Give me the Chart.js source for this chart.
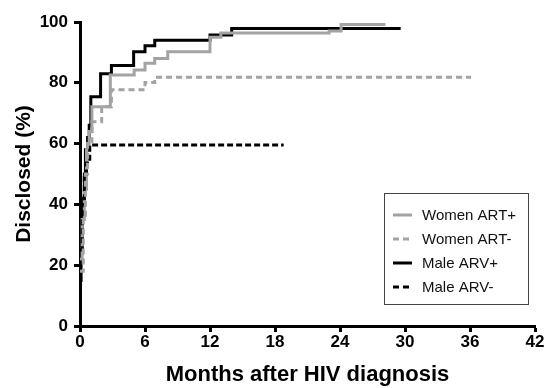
<!DOCTYPE html>
<html>
<head>
<meta charset="utf-8">
<script src="https://cdn.jsdelivr.net/npm/chart.js@4"></script>
<style>
html,body{margin:0;padding:0;background:#fff;}
#wrap{width:545px;height:388px;position:relative;}
</style>
</head>
<body>
<div id="wrap"><canvas id="c" width="545" height="388"></canvas></div>
<script>
// ---- data (months, % disclosed) ----
const seriesNames = ["Women ART+", "Women ART-", "Male ARV+", "Male ARV-"];

const womenArtPlusMonths = [0, 0.2, 0.4, 0.6, 0.85, 1.1, 2.8, 5.0, 6.0, 6.9, 8.1, 12.0, 13.0, 23.0, 24.1, 28.2];
const womenArtPlusPct    = [22, 35, 45, 58, 64, 72.1, 82.6, 84.2, 86.4, 88.0, 90.2, 95.0, 96.4, 97.0, 99.2, 99.2];

const womenArtMinusMonths = [0, 0.3, 0.5, 0.7, 1.1, 2.0, 2.9, 6.0, 6.9, 36.1];
const womenArtMinusPct    = [18, 35, 50, 60, 67.2, 72.1, 77.7, 80.1, 81.8, 81.8];

const maleArvPlusMonths = [0, 0.1, 0.2, 0.3, 0.4, 0.5, 0.7, 0.85, 1.0, 1.9, 2.9, 4.95, 6.0, 6.9, 12.0, 14.0, 29.6];
const maleArvPlusPct    = [15, 25, 35, 42, 50, 58, 62, 66, 75.4, 83.0, 85.7, 90.2, 92.2, 94.0, 95.7, 97.9, 97.9];

const maleArvMinusMonths = [0, 0.2, 0.4, 0.6, 0.9, 18.8];
const maleArvMinusPct    = [25, 40, 50, 53.6, 59.5, 59.5];

const xTicks = [0, 6, 12, 18, 24, 30, 36, 42];
const yTicks = [0, 20, 40, 60, 80, 100];

function pts(xs, ys){ return xs.map((x,i)=>({x:x, y:ys[i]})); }

const GRAY = '#a3a3a3';
const FONT = '"Liberation Sans", Arial, sans-serif';
const styles = [
  {color: GRAY, dash: []},
  {color: GRAY, dash: [6,4]},
  {color: '#000', dash: []},
  {color: '#000', dash: [6,3]}
];
const seriesData = [
  pts(womenArtPlusMonths, womenArtPlusPct),
  pts(womenArtMinusMonths, womenArtMinusPct),
  pts(maleArvPlusMonths, maleArvPlusPct),
  pts(maleArvMinusMonths, maleArvMinusPct)
];

const datasets = seriesNames.map((n,i)=>({
  label: n,
  data: seriesData[i],
  borderColor: styles[i].color,
  borderDash: styles[i].dash,
  borderWidth: 3,
  pointRadius: 0,
  stepped: true,
  fill: false,
  tension: 0
}));
// draw black lines on top
const order = [2,0,3,1];
datasets.forEach((d,i)=>{ d.order = order[i]; });

const legendBox = {
  id: 'legendBox',
  afterDatasetsDraw(chart){
    const ctx = chart.ctx;
    ctx.save();
    ctx.strokeStyle = '#444';
    ctx.lineWidth = 1;
    ctx.strokeRect(384.5, 193.5, 144, 111);
    const rows = [215, 239, 263, 287];
    ctx.font = '15px ' + FONT;
    ctx.textBaseline = 'middle';
    ctx.textAlign = 'left';
    seriesNames.forEach((n,i)=>{
      const y = rows[i];
      ctx.beginPath();
      ctx.strokeStyle = styles[i].color;
      ctx.lineWidth = 3;
      ctx.setLineDash(styles[i].dash.length ? [6,4] : []);
      ctx.moveTo(393, y);
      ctx.lineTo(412, y);
      ctx.stroke();
      ctx.setLineDash([]);
      ctx.fillStyle = '#111';
      ctx.fillText(n, 422, y+1);
    });
    ctx.restore();
  }
};

new Chart(document.getElementById('c'), {
  type: 'line',
  data: { datasets: datasets },
  options: {
    responsive: false,
    animation: false,
    layout: { padding: { left: 0, right: 10, top: 22, bottom: 0 } },
    plugins: { legend: { display: false }, tooltip: { enabled: false } },
    scales: {
      x: {
        type: 'linear',
        min: 0, max: 42,
        afterBuildTicks(s){ s.ticks = xTicks.map(v=>({value:v})); },
        afterFit(s){ s.height = 62; },
        border: { display: true, color: '#000', width: 3 },
        grid: { display: true, drawOnChartArea: false, drawTicks: true, tickLength: 6, tickWidth: 3, tickColor: '#000' },
        ticks: { color: '#000', padding: 0, font: { family: FONT, size: 17, weight: 'bold' }, maxRotation: 0 },
        title: { display: true, text: 'Months after HIV diagnosis', color: '#000', padding: { top: 0, bottom: 0 }, font: { family: FONT, size: 22, weight: 'bold' } }
      },
      y: {
        min: 0, max: 100,
        afterBuildTicks(s){ s.ticks = yTicks.map(v=>({value:v})); },
        afterFit(s){ s.width = 80; },
        border: { display: true, color: '#000', width: 3 },
        grid: { display: true, drawOnChartArea: false, drawTicks: true, tickLength: 6, tickWidth: 3, tickColor: '#000' },
        ticks: { color: '#000', padding: 6, font: { family: FONT, size: 17, weight: 'bold' } },
        title: { display: true, text: 'Disclosed (%)', color: '#000', padding: { top: 12, bottom: 0 }, font: { family: FONT, size: 21, weight: 'bold' } }
      }
    }
  },
  plugins: [legendBox]
});
</script>
</body>
</html>
